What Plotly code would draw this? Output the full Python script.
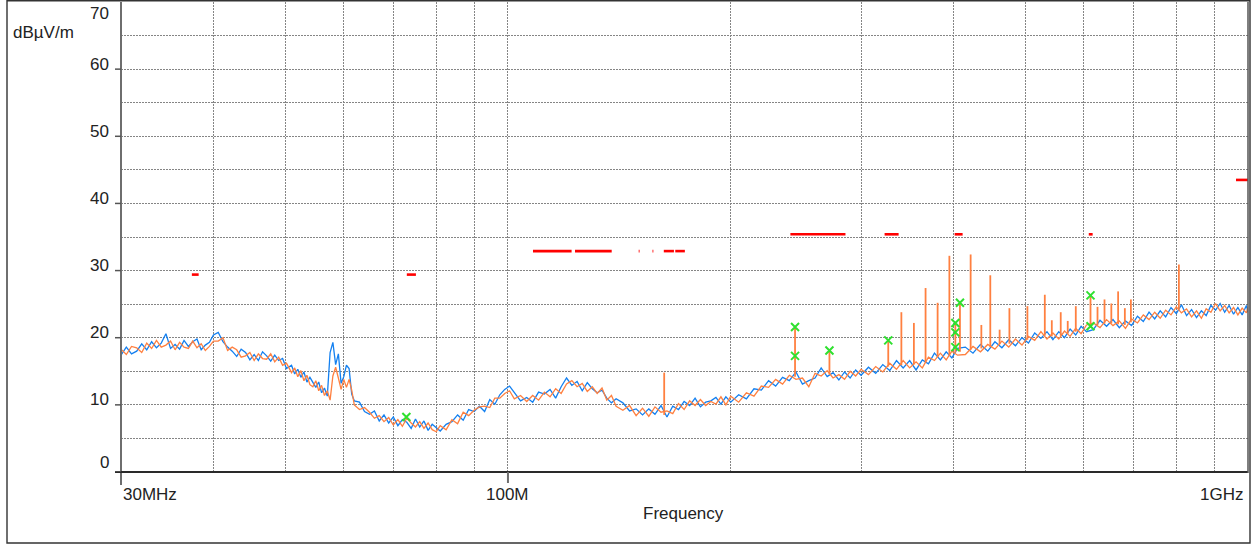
import math
import plotly.graph_objects as go

# ---------------- data ----------------
# frequency samples (MHz), by band
F1 = [30, 30.5, 31, 31.5, 32, 32.5, 33, 33.5, 34, 34.5, 35, 35.5, 36, 36.5, 37, 37.5, 38, 38.5, 39, 39.5, 40]
F2 = [40.6, 41.2, 41.8, 42.4, 43, 43.6, 44.2, 44.8, 45.4, 46, 46.6, 47.2, 47.8, 48.4, 49, 49.6, 50.2]
F3 = [51, 51.5, 52, 52.5, 53, 53.5, 54, 54.5, 55, 55.5, 56, 56.5, 57, 57.5, 58, 58.5, 59, 59.5, 60, 60.5, 61, 61.5, 62]
F4 = [63, 64, 65, 66, 67, 68, 69, 70, 71, 72, 73, 74, 75, 76, 77, 78, 79, 80, 81]
F5 = [82.5, 84, 85.5, 87, 88.5, 90, 91.5, 93, 94.5, 96, 97.5, 99, 100.5]
F6 = [102, 104, 106, 108, 110, 112, 114, 116, 118, 120, 122, 124, 126, 128, 130, 132, 134, 136, 138, 140]
F7 = [143, 146, 149, 152, 155, 158, 161, 164, 167, 170, 173, 176, 179, 182, 185, 188, 191, 194, 197, 200]
F8 = [205, 210, 215, 220, 225, 230, 235, 240, 245, 250, 255, 260, 265, 270, 275, 280, 285, 290, 295, 300]
F9 = [307, 314, 321, 328, 335, 342, 349, 356, 363, 370, 377, 384, 391, 398, 405]
F10 = [415, 425, 435, 445, 455, 465, 475, 485, 495, 505, 515, 525, 535, 545, 555, 565, 575, 585, 595, 605]
F11 = [618, 631, 644, 657, 670, 683, 696, 709, 722, 735, 748, 761, 774, 787, 800, 813, 826, 839, 852, 865,
       878, 891, 904, 917, 930, 943, 956, 969, 982, 995, 1000]

# blue trace (dBµV/m)
B1 = [17.4, 18.6, 17.6, 18.0, 19.1, 18.2, 19.4, 18.5, 19.2, 20.6, 18.4, 19.0, 18.3, 19.6, 18.7, 19.4, 19.8, 18.2, 18.9, 19.3, 20.4]
B2 = [20.8, 19.4, 18.6, 18.0, 17.2, 18.3, 17.8, 16.7, 17.5, 16.6, 17.9, 17.3, 16.5, 17.4, 16.6, 16.9, 15.4]
B3 = [15.9, 14.6, 15.3, 14.1, 14.9, 13.4, 14.1, 13.3, 12.6, 13.4, 11.8, 12.5, 11.3, 17.8, 19.3, 16.0, 17.6, 13.2, 14.2, 15.9, 15.4, 11.6, 10.6]
B4 = [10.4, 9.0, 8.6, 9.1, 7.6, 8.5, 7.3, 8.2, 6.9, 7.8, 7.4, 6.5, 7.9, 6.7, 7.6, 6.2, 7.1, 6.6, 6.1]
B5 = [7.1, 7.5, 8.5, 7.7, 9.3, 9.0, 9.8, 9.0, 10.8, 10.1, 11.5, 12.3, 12.8]
B6 = [11.9, 10.6, 11.1, 10.4, 11.9, 11.6, 12.3, 11.0, 12.7, 14.0, 12.9, 13.5, 12.1, 13.3, 12.4, 11.8, 12.2, 11.0, 10.3, 10.9]
B7 = [10.3, 9.1, 9.4, 8.5, 9.4, 8.6, 9.9, 8.2, 9.8, 9.3, 10.5, 9.9, 11.0, 9.7, 10.4, 10.6, 11.1, 10.1, 11.2, 10.4]
B8 = [11.5, 10.9, 12.4, 12.2, 13.6, 12.8, 14.1, 13.6, 14.9, 13.1, 13.6, 14.0, 15.5, 14.2, 14.8, 13.7, 14.9, 14.0, 15.2, 14.4]
B9 = [15.6, 14.7, 16.0, 15.1, 16.6, 15.5, 16.6, 15.2, 16.7, 16.1, 17.7, 16.7, 17.9, 17.0, 18.4]
B10 = [18.6, 17.7, 19.0, 18.0, 19.4, 18.5, 19.7, 18.8, 20.0, 19.2, 20.7, 19.9, 20.9, 19.7, 20.9, 20.0, 21.3, 20.4, 21.7, 20.9]
B11 = [21.2, 22.6, 21.7, 22.7, 21.5, 22.5, 21.8, 23.2, 22.4, 23.8, 22.8, 24.0, 23.1, 24.5, 23.6, 24.9, 23.3, 24.2, 23.0, 24.0,
       23.3, 24.8, 24.1, 25.1, 23.8, 24.8, 23.5, 24.5, 23.4, 24.8, 23.8]

# orange trace (dBµV/m)
O1 = [18.3, 17.5, 18.7, 18.5, 17.8, 19.2, 18.4, 19.6, 18.6, 18.9, 19.5, 18.2, 19.3, 18.6, 18.4, 19.5, 18.5, 19.1, 18.1, 18.7, 19.5]
O2 = [19.5, 20.0, 18.1, 18.6, 18.2, 17.1, 17.3, 17.8, 16.6, 17.6, 16.9, 16.8, 17.6, 16.4, 17.1, 15.9, 16.2]
O3 = [14.8, 15.5, 14.2, 15.1, 13.6, 14.4, 13.0, 12.7, 13.6, 12.1, 12.9, 11.4, 12.1, 10.7, 14.3, 15.6, 14.0, 12.3, 13.8, 12.6, 13.8, 12.2, 10.0]
O4 = [9.3, 9.6, 8.9, 8.0, 8.4, 7.5, 8.1, 7.0, 7.8, 6.8, 8.0, 7.3, 6.7, 7.5, 6.5, 7.3, 6.3, 6.0, 6.9]
O5 = [6.3, 7.8, 7.2, 8.9, 8.4, 9.2, 9.7, 9.8, 9.6, 11.0, 11.0, 11.7, 12.1]
O6 = [10.9, 11.4, 10.5, 11.4, 10.7, 11.9, 11.2, 12.4, 11.7, 13.1, 13.6, 12.7, 13.2, 12.0, 12.7, 11.7, 12.5, 10.7, 11.4, 9.8]
O7 = [9.2, 9.9, 8.4, 9.5, 8.3, 9.7, 8.9, 9.1, 8.7, 10.2, 9.3, 10.6, 9.9, 10.8, 9.9, 10.5, 10.1, 11.2, 10.0, 11.3]
O8 = [10.4, 11.8, 11.3, 12.8, 12.6, 13.8, 13.1, 14.4, 13.8, 14.0, 12.7, 14.7, 14.3, 15.1, 14.0, 14.5, 13.8, 15.0, 14.3, 15.3]
O9 = [14.5, 15.7, 14.9, 16.2, 15.3, 16.6, 15.5, 16.4, 15.5, 17.1, 16.6, 17.7, 16.7, 18.0, 17.4]
O10 = [17.5, 18.7, 17.9, 19.0, 18.3, 19.5, 18.6, 19.8, 18.9, 20.2, 19.6, 20.9, 19.8, 20.7, 19.8, 21.0, 20.2, 21.4, 20.6, 21.9]
O11 = [22.2, 21.5, 22.7, 21.8, 22.5, 21.4, 22.8, 22.2, 23.4, 22.7, 23.8, 22.9, 24.1, 23.4, 24.6, 23.7, 24.3, 23.1, 24.0, 22.9,
       24.3, 23.8, 25.1, 24.0, 24.8, 23.7, 24.5, 23.4, 24.4, 23.7, 24.5]

# narrow-band spikes of the orange trace
SPIKE_F = [162.6, 244.3, 271.9, 326.5, 340.1, 353.6, 366.7, 380.7, 394.9, 402.3, 408.1, 421.9, 436.2, 448.5, 461.7,
           476.0, 503.4, 531.4, 543.1, 558.4, 570.7, 585.2, 612.6, 626.1, 639.9, 653.6, 667.6, 681.7, 694.6, 806.5]
SPIKE_TOP = [14.8, 21.6, 18.1, 19.6, 23.8, 22.2, 27.4, 25.2, 32.2, 22.2, 25.2, 32.4, 21.9, 29.3, 21.2,
             24.4, 24.7, 26.4, 22.6, 23.8, 22.5, 24.7, 26.3, 24.6, 25.7, 25.1, 26.9, 24.4, 25.7, 30.9]
SPIKE_BASE = [8.5, 14.2, 14.5, 15.7, 15.9, 16.0, 16.3, 17.1, 17.3, 17.8, 17.9, 18.2, 18.4, 18.6, 19.0,
              19.1, 19.7, 20.3, 20.2, 20.3, 20.6, 20.9, 21.5, 21.9, 22.1, 22.1, 22.0, 21.9, 22.3, 24.2]

# green measurement markers
MARK_F = [72.9, 244.3, 244.3, 271.9, 326.5, 402.3, 402.3, 402.3, 408.1, 612.6, 612.6]
MARK_DB = [8.2, 21.6, 17.3, 18.1, 19.6, 22.2, 20.8, 18.6, 25.2, 26.3, 21.7]

# red limit segments
LIM_START = [37.4, 73.0, 108.1, 123.2, 150.2, 156.8, 162.4, 168.3, 240.8, 322.8, 401.4, 609.3, 963.4]
LIM_END = [38.2, 75.1, 121.9, 138.1, 150.6, 157.2, 167.6, 173.4, 285.8, 337.2, 411.5, 616.7, 1000]
LIM_DB = [29.4, 29.4, 32.9, 32.9, 32.9, 32.9, 32.9, 32.9, 35.4, 35.4, 35.4, 35.4, 43.5]

# axis ticks
X_GRID = [30, 40, 50, 60, 70, 80, 90, 100, 200, 300, 400, 500, 600, 700, 800, 900, 1000]
Y_GRID = [0, 5, 10, 15, 20, 25, 30, 35, 40, 45, 50, 55, 60, 65, 70]
Y_LABELS = [0, 10, 20, 30, 40, 50, 60, 70]

# ---------------- build ----------------
freq = F1 + F2 + F3 + F4 + F5 + F6 + F7 + F8 + F9 + F10 + F11
blue = B1 + B2 + B3 + B4 + B5 + B6 + B7 + B8 + B9 + B10 + B11
orange = O1 + O2 + O3 + O4 + O5 + O6 + O7 + O8 + O9 + O10 + O11
assert len(freq) == len(blue) == len(orange)

BLUE = "rgb(20,128,240)"
ORANGE = "rgb(255,128,64)"

fig = go.Figure()
fig.add_trace(go.Scatter(x=freq, y=blue, mode="lines", line=dict(color=BLUE, width=1.3), hoverinfo="skip"))
fig.add_trace(go.Scatter(x=freq, y=orange, mode="lines", line=dict(color=ORANGE, width=1.3), hoverinfo="skip"))

sx, sy = [], []
for f, b, t in zip(SPIKE_F, SPIKE_BASE, SPIKE_TOP):
    sx += [f, f, None]
    sy += [b, t, None]
fig.add_trace(go.Scatter(x=sx, y=sy, mode="lines", line=dict(color=ORANGE, width=1.8), hoverinfo="skip"))

lx, ly = [], []
for s, e, v in zip(LIM_START, LIM_END, LIM_DB):
    lx += [s, e, None]
    ly += [v, v, None]
fig.add_trace(go.Scatter(x=lx, y=ly, mode="lines", line=dict(color="#ff0000", width=2.6), hoverinfo="skip"))

fig.add_trace(go.Scatter(x=MARK_F, y=MARK_DB, mode="markers",
                         marker=dict(symbol="x-thin", size=8, color="#2fe02f",
                                     line=dict(width=2, color="#2fe02f")), hoverinfo="skip"))

W, H = 1252, 544
L, R, T, B = 121, 1248, 2, 472
PW, PH = R - L, B - T


def px(x):
    return (x - L) / PW


def py(y):
    return (B - y) / PH


xmin, xmax = math.log10(30), math.log10(1000)

fig.update_layout(
    width=W, height=H,
    margin=dict(l=L, r=W - R, t=T, b=H - B, pad=0),
    paper_bgcolor="white", plot_bgcolor="white",
    showlegend=False,
    font=dict(family="Liberation Sans, Arial, sans-serif", size=17, color="#222222"),
)
fig.update_xaxes(type="log", range=[xmin, xmax], tickvals=X_GRID, showticklabels=False, ticks="",
                 showgrid=True, gridcolor="#858585", gridwidth=1, griddash="2px,1px",
                 zeroline=False, showline=False)
fig.update_yaxes(range=[0, 70], tickvals=Y_GRID, showticklabels=False, ticks="",
                 showgrid=True, gridcolor="#858585", gridwidth=1, griddash="2px,1px",
                 zeroline=False, showline=False)

shapes = []
# outer frame
shapes.append(dict(type="rect", xref="paper", yref="paper", x0=px(7), x1=px(1250), y0=py(543), y1=py(0.7),
                   line=dict(color="#333333", width=1.4), fillcolor="rgba(0,0,0,0)", layer="above"))
# y axis line (extends below plot to form the 30 MHz tick)
shapes.append(dict(type="line", xref="paper", yref="paper", x0=0, x1=0, y0=py(485), y1=1,
                   line=dict(color="#6e6e6e", width=2), layer="above"))
# x axis line
shapes.append(dict(type="line", xref="paper", yref="paper", x0=px(115), x1=1, y0=0, y1=0,
                   line=dict(color="#2a2a2a", width=2), layer="above"))
# right edge
shapes.append(dict(type="line", xref="paper", yref="paper", x0=1, x1=1, y0=py(473), y1=1,
                   line=dict(color="#555555", width=1.5), layer="above"))
# y tick marks
for v in Y_LABELS[:-1]:
    shapes.append(dict(type="line", xref="paper", yref="y", x0=px(115), x1=0, y0=v, y1=v,
                       line=dict(color="#555555", width=1.5), layer="above"))
# 100 MHz tick
x100 = (2 - xmin) / (xmax - xmin)
shapes.append(dict(type="line", xref="paper", yref="paper", x0=x100, x1=x100, y0=py(483), y1=0,
                   line=dict(color="#6e6e6e", width=2), layer="above"))
fig.update_layout(shapes=shapes)

ann = []
for v in Y_LABELS:
    shift = 5
    if v == 0:
        shift = 10
    if v == 70:
        shift = -11
    ann.append(dict(text=str(v), xref="paper", yref="y", x=px(111), y=v, xanchor="right", yanchor="middle",
                    yshift=shift, showarrow=False))
ann.append(dict(text="dBµV/m", xref="paper", yref="paper", x=px(11), y=py(32.5), xanchor="left",
                yanchor="middle", showarrow=False))
ann.append(dict(text="30MHz", xref="paper", yref="paper", x=px(121), y=py(494), xanchor="left",
                yanchor="middle", showarrow=False))
ann.append(dict(text="100M", xref="paper", yref="paper", x=x100, y=py(494), xanchor="center",
                yanchor="middle", showarrow=False))
ann.append(dict(text="1GHz", xref="paper", yref="paper", x=px(1245), y=py(494), xanchor="right",
                yanchor="middle", showarrow=False))
ann.append(dict(text="Frequency", xref="paper", yref="paper", x=px(683.5), y=py(513.5), xanchor="center",
                yanchor="middle", showarrow=False))
fig.update_layout(annotations=ann)

fig.write_html("out.html")
